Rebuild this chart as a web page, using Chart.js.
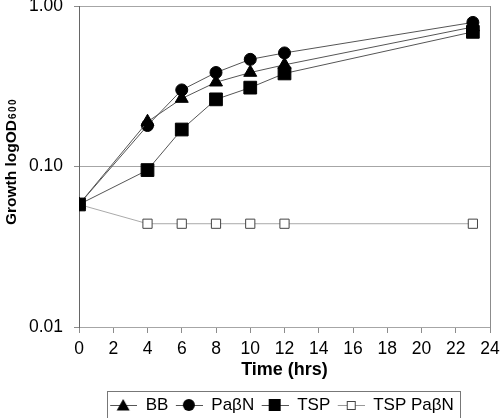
<!DOCTYPE html>
<html>
<head>
<meta charset="utf-8">
<script src="https://cdn.jsdelivr.net/npm/chart.js@4"></script>
<style>
  html, body { margin: 0; padding: 0; background: #fff; }
  #wrap { width: 500px; height: 418px; }
</style>
</head>
<body>
<div id="wrap"><canvas id="chart" width="500" height="418"></canvas></div>
<script>
const hours = [0, 4, 6, 8, 10, 12, 23];
const seriesNames = ['BB', 'PaβN', 'TSP', 'TSP PaβN'];
const bb = [0.058, 0.19, 0.265, 0.335, 0.385, 0.43, 0.74];
const pabn = [0.058, 0.18, 0.30, 0.385, 0.465, 0.51, 0.79];
const tsp = [0.058, 0.095, 0.17, 0.262, 0.31, 0.38, 0.69];
const tspPabn = [0.058, 0.044, 0.044, 0.044, 0.044, 0.044, 0.044];
const yTicks = [0.01, 0.1, 1];
const yTitle = 'Growth logOD';
const yTitleSub = '600';

const FONT = 'Liberation Sans, Arial, sans-serif';
const LEGEND_DY = 5.5;
const LEGEND_DX = -4;

function points(values) {
    return hours.map((h, i) => ({ x: h, y: values[i] }));
}

// legend icon: short line with the marker in the middle, 3px blank on the left
function legendIcon(shape, filled, lineColor) {
    const c = document.createElement('canvas');
    c.width = 30;
    c.height = 14;
    const g = c.getContext('2d');
    g.strokeStyle = lineColor;
    g.lineWidth = 1;
    g.beginPath();
    g.moveTo(3, 7.5);
    g.lineTo(30, 7.5);
    g.stroke();
    g.fillStyle = '#000';
    g.beginPath();
    if (shape === 'triangle') {
        g.moveTo(16, 1);
        g.lineTo(22.5, 12.5);
        g.lineTo(9.5, 12.5);
        g.closePath();
        g.fill();
    } else if (shape === 'circle') {
        g.arc(16, 7, 6, 0, Math.PI * 2);
        g.fill();
    } else if (filled) {
        g.fillRect(10, 1, 12, 12);
    } else {
        g.fillStyle = '#fff';
        g.fillRect(12, 3.5, 8, 8);
        g.strokeStyle = '#444';
        g.strokeRect(12.5, 3.5, 8, 8);
    }
    return c;
}

const icons = [
    legendIcon('triangle', true, '#555'),
    legendIcon('circle', true, '#555'),
    legendIcon('rect', true, '#555'),
    legendIcon('rect', false, '#999')
];

const frame = {
    id: 'frame',
    afterLayout(chart) {
        // nudge the legend to where it sits in the original
        const lg = chart.legend;
        lg.top += LEGEND_DY;
        lg.bottom += LEGEND_DY;
        lg.left += LEGEND_DX;
        lg.right += LEGEND_DX;
    },
    afterDraw(chart) {
        const g = chart.ctx;
        const a = chart.chartArea;
        g.save();
        g.strokeStyle = '#8c8c8c';
        g.lineWidth = 1;
        g.beginPath();
        g.moveTo(Math.round(a.right) + 0.5, a.top);
        g.lineTo(Math.round(a.right) + 0.5, a.bottom);
        g.stroke();

        // border round the legend
        const boxes = chart.legend.legendHitBoxes;
        if (boxes && boxes.length) {
            const left = Math.min(...boxes.map(b => b.left)) - 0;
            const right = Math.max(...boxes.map(b => b.left + b.width)) + 6;
            const top = chart.legend.top - 1;
            const bottom = chart.legend.top + 26;
            g.strokeStyle = '#777';
            g.strokeRect(Math.round(left) + 0.5, Math.round(top) + 0.5, Math.round(right - left), Math.round(bottom - top));
        }

        // y axis title with a subscript
        g.translate(16, 162);
        g.rotate(-Math.PI / 2);
        g.fillStyle = '#000';
        g.textBaseline = 'alphabetic';
        g.font = 'bold 15.5px ' + FONT;
        const mainW = g.measureText(yTitle).width;
        g.font = 'bold 10px ' + FONT;
        g.letterSpacing = '1.5px';
        const subW = g.measureText(yTitleSub).width;
        const x0 = -(mainW + subW) / 2;
        g.fillText(yTitleSub, x0 + mainW + 1, 0);
        g.letterSpacing = '0px';
        g.font = 'bold 15.5px ' + FONT;
        g.fillText(yTitle, x0, 0);
        g.restore();
    }
};

const ctx = document.getElementById('chart').getContext('2d');
const chart = new Chart(ctx, {
    type: 'line',
    data: {
        datasets: [
            {
                label: seriesNames[0], data: points(bb), order: 1,
                borderColor: '#555', borderWidth: 1,
                pointStyle: 'triangle', pointRadius: 7.5,
                pointBackgroundColor: '#000', pointBorderColor: '#000', pointBorderWidth: 1
            },
            {
                label: seriesNames[1], data: points(pabn), order: 2,
                borderColor: '#555', borderWidth: 1,
                pointStyle: 'circle', pointRadius: 6,
                pointBackgroundColor: '#000', pointBorderColor: '#000', pointBorderWidth: 1
            },
            {
                label: seriesNames[2], data: points(tsp), order: 0,
                borderColor: '#555', borderWidth: 1,
                pointStyle: 'rect', pointRadius: 9,
                pointBackgroundColor: '#000', pointBorderColor: '#000', pointBorderWidth: 1
            },
            {
                label: seriesNames[3], data: points(tspPabn), order: 3,
                borderColor: '#aaa', borderWidth: 1,
                pointStyle: 'rect', pointRadius: 6.5,
                pointBackgroundColor: '#fff', pointBorderColor: '#444', pointBorderWidth: 1
            }
        ]
    },
    options: {
        responsive: false,
        animation: false,
        layout: { padding: 0, autoPadding: false },
        plugins: {
            tooltip: { enabled: false },
            legend: {
                position: 'bottom',
                fullSize: false,
                labels: {
                    font: { family: FONT, size: 17 },
                    color: '#000',
                    usePointStyle: true,
                    pointStyleWidth: 30,
                    padding: 4.5,
                    generateLabels: () => seriesNames.map((name, i) => ({
                        text: name,
                        pointStyle: icons[i],
                        datasetIndex: i,
                        hidden: false,
                        lineWidth: 0,
                        fontColor: '#000'
                    }))
                }
            }
        },
        scales: {
            x: {
                type: 'linear',
                min: 0,
                max: 24,
                afterFit: s => {
                    s.height = 59.5;
                    s.paddingLeft = 0;
                    s.paddingRight = 10;
                },
                ticks: {
                    stepSize: 2,
                    color: '#000',
                    font: { family: FONT, size: 17.5 },
                    padding: 5.5,
                    maxRotation: 0
                },
                grid: { drawOnChartArea: false, drawTicks: true, tickLength: 6, color: '#8c8c8c' },
                border: { display: false },
                title: {
                    display: true,
                    text: 'Time (hrs)',
                    color: '#000',
                    font: { family: FONT, size: 18, weight: 'bold' },
                    padding: { top: 0, bottom: 5.5 }
                }
            },
            y: {
                type: 'logarithmic',
                min: 0.01,
                max: 1,
                afterFit: s => {
                    s.width = 79;
                    s.paddingTop = 6;
                    s.paddingBottom = 0;
                },
                afterBuildTicks: s => { s.ticks = yTicks.map(v => ({ value: v })); },
                ticks: {
                    color: '#000',
                    font: { family: FONT, size: 17.5 },
                    padding: 11,
                    callback: v => Number(v).toFixed(2)
                },
                grid: { color: '#a6a6a6', tickLength: 5, tickColor: '#8c8c8c' },
                border: { display: true, color: '#666' },
                title: { display: false }
            }
        }
    },
    plugins: [frame]
});
</script>
</body>
</html>
